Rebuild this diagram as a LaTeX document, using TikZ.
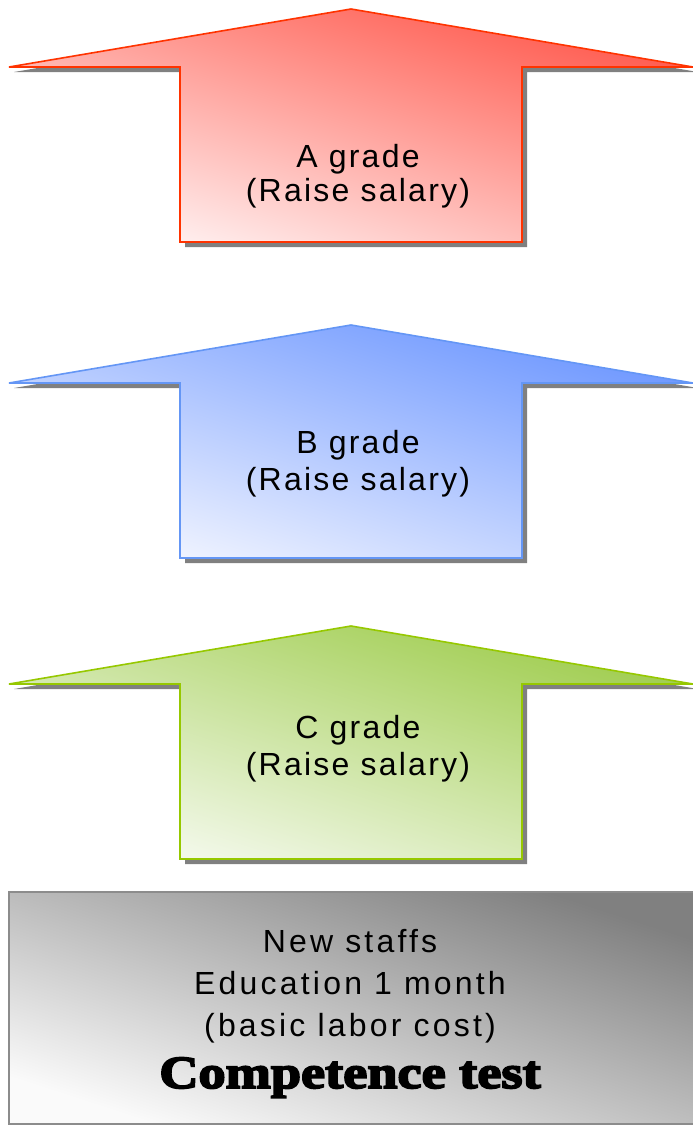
\documentclass[tikz,border=0pt]{standalone}
\usepackage{fontspec}
\setmainfont[LetterSpace=7]{Liberation Sans}
\newfontfamily\fatfont[FakeBold=4,FakeStretch=1.18]{Liberation Serif}
\definecolor{aDark}{RGB}{255,88,76}
\definecolor{aLight}{RGB}{255,242,242}
\definecolor{aLine}{RGB}{255,51,0}
\definecolor{bDark}{RGB}{108,150,255}
\definecolor{bLight}{RGB}{242,245,255}
\definecolor{bLine}{RGB}{100,150,245}
\definecolor{cDark}{RGB}{158,204,76}
\definecolor{cLight}{RGB}{246,250,240}
\definecolor{cLine}{RGB}{150,200,0}
\definecolor{shadowGray}{RGB}{128,128,128}
\definecolor{boxDark}{RGB}{128,128,128}
\definecolor{boxLight}{RGB}{250,250,250}
\definecolor{boxLine}{RGB}{140,140,140}
\tikzset{
  shadowshape/.style={fill=shadowGray, draw=none},
  arrowshape/.style={line width=1.6pt, line join=miter},
  diag/.style={shading angle=-18},
  lbl/.style={anchor=base, inner sep=0pt, font=\fontsize{32}{36}\selectfont},
  boxlbl/.style={anchor=base, inner sep=0pt, font=\addfontfeatures{LetterSpace=10}\fontsize{32}{36}\selectfont},
}
\newcommand{\uparrowpath}[1]{%
  (9,#1+58) -- (351,#1) -- (693,#1+58) -- (522,#1+58) -- (522,#1+233) -- (180,#1+233) -- (180,#1+58) -- cycle}
\begin{document}
\begin{tikzpicture}[x=1pt,y=-1pt]
\useasboundingbox (0,0) rectangle (693,1125);
% shadows
\foreach \t in {9,325,626} {
  \fill[shadowshape, shift={(5,5)}] \uparrowpath{\t};
}
% arrows
\draw[arrowshape, draw=aLine, top color=aDark, bottom color=aLight, diag] \uparrowpath{9};
\draw[arrowshape, draw=bLine, top color=bDark, bottom color=bLight, diag] \uparrowpath{325};
\draw[arrowshape, draw=cLine, top color=cDark, bottom color=cLight, diag] \uparrowpath{626};
% labels
\node[lbl] (a1) at (358,167) {A grade};
\node[lbl] (a2) at (358,201) {(Raise salary)};
\node[lbl] (b1) at (358,453) {B grade};
\node[lbl] (b2) at (358,490) {(Raise salary)};
\node[lbl] (c1) at (358,738) {C grade};
\node[lbl] (c2) at (358,775) {(Raise salary)};
% bottom box
\draw[line width=1.5pt, draw=boxLine, top color=boxDark, bottom color=boxLight, diag]
  (9,892) rectangle (694,1124);
\node[boxlbl] (n1) at (350,952) {New staffs};
\node[boxlbl] (n2) at (350,994) {Education 1 month};
\node[boxlbl] (n3) at (350,1036) {(basic labor cost)};
\node[anchor=base, inner sep=0pt, font=\fatfont\bfseries\fontsize{46}{50}\selectfont] (ct) at (350,1088) {Competence test};
\end{tikzpicture}
\end{document}
